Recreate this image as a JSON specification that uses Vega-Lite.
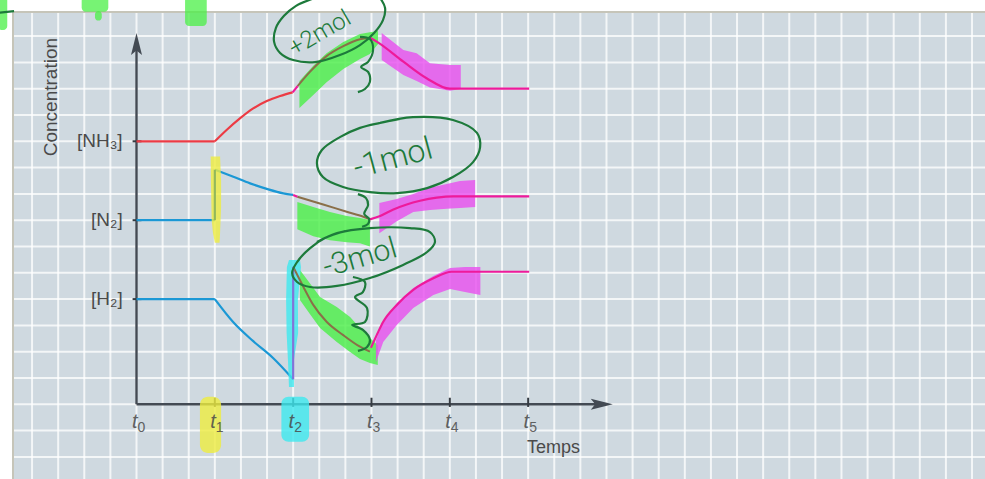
{
  "$schema": "https://vega.github.io/schema/vega-lite/v6.json",
  "width": 985,
  "height": 479,
  "autosize": {"type": "none"},
  "padding": 0,
  "background": "#ffffff",
  "config": {"view": {"stroke": null}},
  "datasets": {
    "vgrid": [{"x":-4,"y":-2.9,"y2":14.92},{"x":-3,"y":-2.9,"y2":14.92},{"x":-2,"y":-2.9,"y2":14.92},{"x":-1,"y":-2.9,"y2":14.92},{"x":0,"y":-2.9,"y2":14.92},{"x":1,"y":-2.9,"y2":14.92},{"x":2,"y":-2.9,"y2":14.92},{"x":3,"y":-2.9,"y2":14.92},{"x":4,"y":-2.9,"y2":14.92},{"x":5,"y":-2.9,"y2":14.92},{"x":6,"y":-2.9,"y2":14.92},{"x":7,"y":-2.9,"y2":14.92},{"x":8,"y":-2.9,"y2":14.92},{"x":9,"y":-2.9,"y2":14.92},{"x":10,"y":-2.9,"y2":14.92},{"x":11,"y":-2.9,"y2":14.92},{"x":12,"y":-2.9,"y2":14.92},{"x":13,"y":-2.9,"y2":14.92},{"x":14,"y":-2.9,"y2":14.92},{"x":15,"y":-2.9,"y2":14.92},{"x":16,"y":-2.9,"y2":14.92},{"x":17,"y":-2.9,"y2":14.92},{"x":18,"y":-2.9,"y2":14.92},{"x":19,"y":-2.9,"y2":14.92},{"x":20,"y":-2.9,"y2":14.92},{"x":21,"y":-2.9,"y2":14.92},{"x":22,"y":-2.9,"y2":14.92},{"x":23,"y":-2.9,"y2":14.92},{"x":24,"y":-2.9,"y2":14.92},{"x":25,"y":-2.9,"y2":14.92},{"x":26,"y":-2.9,"y2":14.92},{"x":27,"y":-2.9,"y2":14.92},{"x":28,"y":-2.9,"y2":14.92},{"x":29,"y":-2.9,"y2":14.92},{"x":30,"y":-2.9,"y2":14.92},{"x":31,"y":-2.9,"y2":14.92},{"x":32,"y":-2.9,"y2":14.92}],
    "hgrid": [{"y":-2,"x":-4.73,"x2":32.6},{"y":-1,"x":-4.73,"x2":32.6},{"y":0,"x":-4.73,"x2":32.6},{"y":1,"x":-4.73,"x2":32.6},{"y":2,"x":-4.73,"x2":32.6},{"y":3,"x":-4.73,"x2":32.6},{"y":4,"x":-4.73,"x2":32.6},{"y":5,"x":-4.73,"x2":32.6},{"y":6,"x":-4.73,"x2":32.6},{"y":7,"x":-4.73,"x2":32.6},{"y":8,"x":-4.73,"x2":32.6},{"y":9,"x":-4.73,"x2":32.6},{"y":10,"x":-4.73,"x2":32.6},{"y":11,"x":-4.73,"x2":32.6},{"y":12,"x":-4.73,"x2":32.6},{"y":13,"x":-4.73,"x2":32.6},{"y":14,"x":-4.73,"x2":32.6}],
    "borders": [
      {"x":-4.73,"x2":32.6,"y":14.92,"y2":14.92},
      {"x":-4.73,"x2":-4.73,"y":-2.9,"y2":14.92}
    ],
    "axes": [
      {"x":0,"x2":0,"y":0,"y2":13.47},
      {"x":0,"x2":17.75,"y":0,"y2":0}
    ],
    "ticks": [
      {"x":-0.15,"x2":0.19,"y":4,"y2":4},
      {"x":-0.15,"x2":0.19,"y":7,"y2":7},
      {"x":-0.15,"x2":0.19,"y":10,"y2":10},
      {"x":3,"x2":3,"y":0.25,"y2":-0.1},
      {"x":6,"x2":6,"y":0.25,"y2":-0.1},
      {"x":9,"x2":9,"y":0.25,"y2":-0.1},
      {"x":12,"x2":12,"y":0.25,"y2":-0.1},
      {"x":15,"x2":15,"y":0.25,"y2":-0.1}
    ],
    "arrows": [{"d":"up","x":0,"y":13.7},{"d":"right","x":17.82,"y":0}],
    "ylab": [{"x":-0.53,"y":10,"t":"[NH₃]"},{"x":-0.53,"y":7,"t":"[N₂]"},{"x":-0.53,"y":4,"t":"[H₂]"}],
    "tlab": [{"x":0,"y":-0.9,"t":"t","n":"0"},{"x":3,"y":-0.9,"t":"t","n":"1"},{"x":6,"y":-0.9,"t":"t","n":"2"},{"x":9,"y":-0.9,"t":"t","n":"3"},{"x":12,"y":-0.9,"t":"t","n":"4"},{"x":15,"y":-0.9,"t":"t","n":"5"}],
    "titles": [{"k":"xt","x":14.96,"y":-1.85,"t":"Temps"},{"k":"yt","x":-3.27,"y":11.68,"t":"Concentration"}],
    "notes": [{"k":"n1","x":7.03,"y":14.1,"t":"+2mol"},{"k":"n2","x":9.82,"y":9.35,"t":"-1mol"},{"k":"n3","x":8.56,"y":5.56,"t":"-3mol"}],
    "lines": [
      {"s":"NH3a","g":"red","i":0,"x":0,"y":10},
      {"s":"NH3a","g":"red","i":1,"x":3,"y":10},
      {"s":"NH3c","g":"red","i":0,"x":3,"y":10},
      {"s":"NH3c","g":"red","i":1,"x":3.45,"y":10.43},
      {"s":"NH3c","g":"red","i":2,"x":3.96,"y":10.87},
      {"s":"NH3c","g":"red","i":3,"x":4.47,"y":11.25},
      {"s":"NH3c","g":"red","i":4,"x":4.99,"y":11.53},
      {"s":"NH3c","g":"red","i":5,"x":5.5,"y":11.72},
      {"s":"NH3c","g":"red","i":6,"x":5.98,"y":11.86},
      {"s":"N2a","g":"blue","i":0,"x":0,"y":7},
      {"s":"N2a","g":"blue","i":1,"x":3,"y":7},
      {"s":"N2c","g":"blue","i":0,"x":3,"y":8.92},
      {"s":"N2c","g":"blue","i":1,"x":3.71,"y":8.65},
      {"s":"N2c","g":"blue","i":2,"x":4.35,"y":8.4},
      {"s":"N2c","g":"blue","i":3,"x":4.99,"y":8.19},
      {"s":"N2c","g":"blue","i":4,"x":5.62,"y":8.02},
      {"s":"N2c","g":"blue","i":5,"x":6,"y":7.96},
      {"s":"H2a","g":"blue","i":0,"x":0,"y":4},
      {"s":"H2a","g":"blue","i":1,"x":3,"y":4},
      {"s":"H2c","g":"blue","i":0,"x":3,"y":4},
      {"s":"H2c","g":"blue","i":1,"x":3.7,"y":3.13},
      {"s":"H2c","g":"blue","i":2,"x":4.46,"y":2.41},
      {"s":"H2c","g":"blue","i":3,"x":5.23,"y":1.76},
      {"s":"H2c","g":"blue","i":4,"x":6,"y":0.95},
      {"s":"NH3b","g":"brown","i":0,"x":6.17,"y":12.1},
      {"s":"NH3b","g":"brown","i":1,"x":6.65,"y":12.65},
      {"s":"NH3b","g":"brown","i":2,"x":7.28,"y":13.24},
      {"s":"NH3b","g":"brown","i":3,"x":7.92,"y":13.62},
      {"s":"NH3b","g":"brown","i":4,"x":8.56,"y":13.88},
      {"s":"NH3b","g":"brown","i":5,"x":8.94,"y":13.94},
      {"s":"N2b","g":"brown","i":0,"x":6.16,"y":7.89},
      {"s":"N2b","g":"brown","i":1,"x":7.15,"y":7.6},
      {"s":"N2b","g":"brown","i":2,"x":8.05,"y":7.32},
      {"s":"N2b","g":"brown","i":3,"x":8.69,"y":7.13},
      {"s":"N2b","g":"brown","i":4,"x":8.94,"y":7.03},
      {"s":"H2b","g":"brown","i":0,"x":6,"y":5.23},
      {"s":"H2b","g":"brown","i":1,"x":6.39,"y":4.47},
      {"s":"H2b","g":"brown","i":2,"x":6.77,"y":3.78},
      {"s":"H2b","g":"brown","i":3,"x":7.28,"y":3.14},
      {"s":"H2b","g":"brown","i":4,"x":7.92,"y":2.63},
      {"s":"H2b","g":"brown","i":5,"x":8.56,"y":2.19},
      {"s":"H2b","g":"brown","i":6,"x":8.94,"y":2.0},
      {"s":"NH3p","g":"pink","i":0,"x":8.94,"y":13.94},
      {"s":"NH3p","g":"pink","i":1,"x":9.2,"y":13.79},
      {"s":"NH3p","g":"pink","i":2,"x":10.22,"y":13.03},
      {"s":"NH3p","g":"pink","i":3,"x":11.11,"y":12.4},
      {"s":"NH3p","g":"pink","i":4,"x":12,"y":12},
      {"s":"NH3p","g":"pink","i":5,"x":15.04,"y":12},
      {"s":"N2p","g":"pink","i":0,"x":8.94,"y":7.03},
      {"s":"N2p","g":"pink","i":1,"x":9.33,"y":7.16},
      {"s":"N2p","g":"pink","i":2,"x":9.84,"y":7.41},
      {"s":"N2p","g":"pink","i":3,"x":10.35,"y":7.6},
      {"s":"N2p","g":"pink","i":4,"x":10.86,"y":7.74},
      {"s":"N2p","g":"pink","i":5,"x":11.5,"y":7.86},
      {"s":"N2p","g":"pink","i":6,"x":12.13,"y":7.91},
      {"s":"N2p","g":"pink","i":7,"x":15.04,"y":7.91},
      {"s":"H2p","g":"pink","i":0,"x":8.98,"y":2.15},
      {"s":"H2p","g":"pink","i":1,"x":9.2,"y":2.63},
      {"s":"H2p","g":"pink","i":2,"x":9.45,"y":3.14},
      {"s":"H2p","g":"pink","i":3,"x":9.97,"y":3.78},
      {"s":"H2p","g":"pink","i":4,"x":10.6,"y":4.35},
      {"s":"H2p","g":"pink","i":5,"x":11.37,"y":4.79},
      {"s":"H2p","g":"pink","i":6,"x":12.07,"y":5.04},
      {"s":"H2p","g":"pink","i":7,"x":15.04,"y":5.04},
      {"s":"NH3k","g":"pink","i":0,"x":5.98,"y":11.86},
      {"s":"NH3k","g":"pink","i":1,"x":6.17,"y":12.1},
      {"s":"N2k","g":"pink","i":0,"x":6,"y":7.96},
      {"s":"N2k","g":"pink","i":1,"x":6.16,"y":7.89},
      {"s":"N2j","g":"olive","i":0,"x":3,"y":7},
      {"s":"N2j","g":"olive","i":1,"x":3,"y":8.92},
      {"s":"H2j","g":"purple","i":0,"x":6,"y":0.95},
      {"s":"H2j","g":"purple","i":1,"x":6,"y":5.23}
    ],
    "bands": [
      {"b":"gA","g":"green","x":6.24,"y":12.29,"y2":11.27},
      {"b":"gA","g":"green","x":6.77,"y":12.87,"y2":11.76},
      {"b":"gA","g":"green","x":7.28,"y":13.35,"y2":12.25},
      {"b":"gA","g":"green","x":7.92,"y":13.78,"y2":12.75},
      {"b":"gA","g":"green","x":8.56,"y":14.08,"y2":13.13},
      {"b":"gA","g":"green","x":8.94,"y":14.15,"y2":13.32},
      {"b":"gA","g":"green","x":9.25,"y":14.19,"y2":13.7},
      {"b":"gB","g":"green","x":6.16,"y":7.69,"y2":6.66},
      {"b":"gB","g":"green","x":6.77,"y":7.5,"y2":6.39},
      {"b":"gB","g":"green","x":7.41,"y":7.31,"y2":6.24},
      {"b":"gB","g":"green","x":8.05,"y":7.16,"y2":6.16},
      {"b":"gB","g":"green","x":8.56,"y":7.08,"y2":6.12},
      {"b":"gB","g":"green","x":8.94,"y":7.01,"y2":6.0},
      {"b":"gC","g":"green","x":6.26,"y":5.11,"y2":3.97},
      {"b":"gC","g":"green","x":6.64,"y":4.6,"y2":3.43},
      {"b":"gC","g":"green","x":7.03,"y":4.08,"y2":2.9},
      {"b":"gC","g":"green","x":7.67,"y":3.7,"y2":2.37},
      {"b":"gC","g":"green","x":8.18,"y":3.32,"y2":1.99},
      {"b":"gC","g":"green","x":8.56,"y":2.9,"y2":1.72},
      {"b":"gC","g":"green","x":8.94,"y":2.52,"y2":1.57},
      {"b":"gC","g":"green","x":9.24,"y":2.25,"y2":1.49},
      {"b":"pA","g":"pink","x":9.39,"y":14.12,"y2":13.09},
      {"b":"pA","g":"pink","x":10.22,"y":13.47,"y2":12.52},
      {"b":"pA","g":"pink","x":10.73,"y":13.35,"y2":12.29},
      {"b":"pA","g":"pink","x":11.24,"y":12.97,"y2":12.05},
      {"b":"pA","g":"pink","x":12.01,"y":12.9,"y2":11.92},
      {"b":"pA","g":"pink","x":12.42,"y":12.9,"y2":11.99},
      {"b":"pB","g":"pink","x":9.3,"y":7.65,"y2":6.5},
      {"b":"pB","g":"pink","x":9.97,"y":7.81,"y2":6.96},
      {"b":"pB","g":"pink","x":10.6,"y":8.0,"y2":7.31},
      {"b":"pB","g":"pink","x":11.24,"y":8.23,"y2":7.39},
      {"b":"pB","g":"pink","x":11.88,"y":8.38,"y2":7.44},
      {"b":"pB","g":"pink","x":12.39,"y":8.49,"y2":7.46},
      {"b":"pB","g":"pink","x":12.97,"y":8.53,"y2":7.5},
      {"b":"pC","g":"pink","x":9.17,"y":2.44,"y2":1.6},
      {"b":"pC","g":"pink","x":9.45,"y":3.13,"y2":2.37},
      {"b":"pC","g":"pink","x":9.97,"y":3.85,"y2":3.02},
      {"b":"pC","g":"pink","x":10.6,"y":4.42,"y2":3.66},
      {"b":"pC","g":"pink","x":11.37,"y":4.88,"y2":4.16},
      {"b":"pC","g":"pink","x":12.01,"y":5.18,"y2":4.38},
      {"b":"pC","g":"pink","x":12.58,"y":5.22,"y2":4.27},
      {"b":"pC","g":"pink","x":13.17,"y":5.22,"y2":4.16}
    ],
    "vbands": [
      {"b":"y1","g":"yellow","y":9.42,"x":2.84,"x2":3.2},
      {"b":"y1","g":"yellow","y":8.5,"x":2.85,"x2":3.24},
      {"b":"y1","g":"yellow","y":7.5,"x":2.87,"x2":3.24},
      {"b":"y1","g":"yellow","y":7.0,"x":2.88,"x2":3.22},
      {"b":"y1","g":"yellow","y":6.5,"x":2.93,"x2":3.2},
      {"b":"y1","g":"yellow","y":6.14,"x":3.0,"x2":3.18},
      {"b":"c2","g":"cyan","y":5.49,"x":5.84,"x2":6.26},
      {"b":"c2","g":"cyan","y":5.22,"x":5.76,"x2":6.3},
      {"b":"c2","g":"cyan","y":3.97,"x":5.73,"x2":6.18},
      {"b":"c2","g":"cyan","y":2.71,"x":5.75,"x2":6.19},
      {"b":"c2","g":"cyan","y":1.68,"x":5.8,"x2":6.03},
      {"b":"c2","g":"cyan","y":0.66,"x":5.84,"x2":6.03}
    ],
    "blobs": [
      {"b":"k1","g":"green","x":-5.3,"x2":-4.95,"y":14.23,"y2":15.5},
      {"b":"k2","g":"green","x":-2.1,"x2":-1.08,"y":14.93,"y2":15.5},
      {"b":"k3","g":"green","x":-1.59,"x2":-1.33,"y":14.59,"y2":14.95},
      {"b":"k4","g":"green","x":1.86,"x2":2.69,"y":14.38,"y2":15.5},
      {"b":"k5","g":"yellow","x":2.43,"x2":3.24,"y":-1.85,"y2":0.29},
      {"b":"k6","g":"cyan","x":5.55,"x2":6.61,"y":-1.42,"y2":0.29}
    ],
    "ink": [
      {"s":"e1","i":0,"x":9.33,"y":15.45},
      {"s":"e1","i":1,"x":9.52,"y":15.07},
      {"s":"e1","i":2,"x":9.44,"y":14.61},
      {"s":"e1","i":3,"x":9.1,"y":14.12},
      {"s":"e1","i":4,"x":8.56,"y":13.66},
      {"s":"e1","i":5,"x":7.79,"y":13.28},
      {"s":"e1","i":6,"x":6.84,"y":13.01},
      {"s":"e1","i":7,"x":6.0,"y":13.09},
      {"s":"e1","i":8,"x":5.5,"y":13.36},
      {"s":"e1","i":9,"x":5.27,"y":13.78},
      {"s":"e1","i":10,"x":5.34,"y":14.31},
      {"s":"e1","i":11,"x":5.65,"y":14.77},
      {"s":"e1","i":12,"x":6.11,"y":15.15},
      {"s":"e1","i":13,"x":6.72,"y":15.41},
      {"s":"e1","i":14,"x":7.41,"y":15.6},
      {"s":"b1","i":0,"x":8.56,"y":13.97},
      {"s":"b1","i":1,"x":8.94,"y":13.89},
      {"s":"b1","i":2,"x":9.06,"y":13.47},
      {"s":"b1","i":3,"x":8.87,"y":13.02},
      {"s":"b1","i":4,"x":8.6,"y":12.83},
      {"s":"b1","i":5,"x":8.87,"y":12.64},
      {"s":"b1","i":6,"x":8.94,"y":12.26},
      {"s":"b1","i":7,"x":8.75,"y":11.99},
      {"s":"b1","i":8,"x":8.48,"y":11.87},
      {"s":"e2","i":0,"x":9.33,"y":10.7},
      {"s":"e2","i":1,"x":10.59,"y":10.92},
      {"s":"e2","i":2,"x":12.12,"y":10.81},
      {"s":"e2","i":3,"x":13.04,"y":10.32},
      {"s":"e2","i":4,"x":13.16,"y":9.78},
      {"s":"e2","i":5,"x":12.89,"y":9.21},
      {"s":"e2","i":6,"x":12.12,"y":8.64},
      {"s":"e2","i":7,"x":11.13,"y":8.22},
      {"s":"e2","i":8,"x":9.98,"y":8.03},
      {"s":"e2","i":9,"x":8.94,"y":8.07},
      {"s":"e2","i":10,"x":7.91,"y":8.26},
      {"s":"e2","i":11,"x":7.14,"y":8.64},
      {"s":"e2","i":12,"x":6.91,"y":9.17},
      {"s":"e2","i":13,"x":7.1,"y":9.67},
      {"s":"e2","i":14,"x":7.79,"y":10.16},
      {"s":"e2","i":15,"x":8.56,"y":10.51},
      {"s":"e2","i":16,"x":9.33,"y":10.7},
      {"s":"e2","i":17,"x":10.09,"y":10.85},
      {"s":"b2","i":0,"x":8.48,"y":7.99},
      {"s":"b2","i":1,"x":8.79,"y":7.84},
      {"s":"b2","i":2,"x":8.87,"y":7.58},
      {"s":"b2","i":3,"x":8.72,"y":7.24},
      {"s":"b2","i":4,"x":8.91,"y":7.05},
      {"s":"b2","i":5,"x":8.87,"y":6.86},
      {"s":"b2","i":6,"x":8.64,"y":6.75},
      {"s":"e3","i":0,"x":6.91,"y":6.17},
      {"s":"e3","i":1,"x":7.68,"y":6.51},
      {"s":"e3","i":2,"x":8.94,"y":6.7},
      {"s":"e3","i":3,"x":10.47,"y":6.7},
      {"s":"e3","i":4,"x":11.24,"y":6.55},
      {"s":"e3","i":5,"x":11.43,"y":6.17},
      {"s":"e3","i":6,"x":11.13,"y":5.79},
      {"s":"e3","i":7,"x":10.21,"y":5.3},
      {"s":"e3","i":8,"x":8.94,"y":4.8},
      {"s":"e3","i":9,"x":7.68,"y":4.5},
      {"s":"e3","i":10,"x":6.65,"y":4.46},
      {"s":"e3","i":11,"x":6.15,"y":4.65},
      {"s":"e3","i":12,"x":5.96,"y":4.99},
      {"s":"e3","i":13,"x":6.15,"y":5.41},
      {"s":"e3","i":14,"x":6.65,"y":5.94},
      {"s":"e3","i":15,"x":7.22,"y":6.32},
      {"s":"e3","i":16,"x":7.99,"y":6.59},
      {"s":"b3","i":0,"x":8.29,"y":4.84},
      {"s":"b3","i":1,"x":8.75,"y":4.65},
      {"s":"b3","i":2,"x":8.67,"y":4.27},
      {"s":"b3","i":3,"x":8.37,"y":4.08},
      {"s":"b3","i":4,"x":8.83,"y":3.66},
      {"s":"b3","i":5,"x":8.75,"y":3.13},
      {"s":"b3","i":6,"x":8.26,"y":3.02},
      {"s":"b3","i":7,"x":8.67,"y":2.83},
      {"s":"b3","i":8,"x":8.94,"y":2.45},
      {"s":"b3","i":9,"x":8.83,"y":2.18},
      {"s":"b3","i":10,"x":8.48,"y":2.03},
      {"s":"tl","i":0,"x":-5.23,"y":14.89},
      {"s":"tl","i":1,"x":-4.69,"y":14.95}
    ]
  },
  "encoding": {
    "x": {"field": "x", "type": "quantitative", "scale": {"domain": [-5.228, 32.497], "nice": false, "zero": false}, "axis": null},
    "y": {"field": "y", "type": "quantitative", "scale": {"domain": [-2.84, 15.373], "nice": false, "zero": false}, "axis": null}
  },
  "layer": [
    {"data": {"values": [{"x": -4.73, "x2": 32.6, "y": -2.9, "y2": 14.92}]}, "mark": {"type": "rect", "color": "#cfd9e0"}, "encoding": {"x2": {"field": "x2"}, "y2": {"field": "y2"}}},
    {"data": {"name": "vgrid"}, "mark": {"type": "rule", "color": "#ffffff", "strokeWidth": 2, "opacity": 0.75}, "encoding": {"y2": {"field": "y2"}}},
    {"data": {"name": "hgrid"}, "mark": {"type": "rule", "color": "#ffffff", "strokeWidth": 2, "opacity": 0.75}, "encoding": {"x2": {"field": "x2"}}},
    {"data": {"name": "borders"}, "mark": {"type": "rule", "color": "#c6c5b9", "strokeWidth": 2}, "encoding": {"x2": {"field": "x2"}, "y2": {"field": "y2"}}},
    {"data": {"name": "axes"}, "mark": {"type": "rule", "color": "#434a53", "strokeWidth": 2.4}, "encoding": {"x2": {"field": "x2"}, "y2": {"field": "y2"}}},
    {"data": {"name": "ticks"}, "mark": {"type": "rule", "color": "#353b42", "strokeWidth": 2}, "encoding": {"x2": {"field": "x2"}, "y2": {"field": "y2"}}},
    {"data": {"name": "arrows"}, "transform": [{"filter": "datum.d === 'up'"}], "mark": {"type": "point", "shape": "M0,-1L0.5,1L0,0.6L-0.5,1Z", "filled": true, "color": "#434a53", "opacity": 1, "size": 484}},
    {"data": {"name": "arrows"}, "transform": [{"filter": "datum.d === 'right'"}], "mark": {"type": "point", "shape": "M1,0L-1,-0.5L-0.6,0L-1,0.5Z", "filled": true, "color": "#434a53", "opacity": 1, "size": 484}},
    {"data": {"name": "blobs"}, "transform": [{"filter": "datum.g === 'green'"}], "mark": {"type": "rect", "color": "#4aef46", "opacity": 0.75, "cornerRadius": 4}, "encoding": {"x2": {"field": "x2"}, "y2": {"field": "y2"}}},
    {"data": {"name": "blobs"}, "transform": [{"filter": "datum.g === 'yellow'"}], "mark": {"type": "rect", "color": "#eeec40", "opacity": 0.8, "cornerRadius": 8}, "encoding": {"x2": {"field": "x2"}, "y2": {"field": "y2"}}},
    {"data": {"name": "blobs"}, "transform": [{"filter": "datum.g === 'cyan'"}], "mark": {"type": "rect", "color": "#3de9ef", "opacity": 0.8, "cornerRadius": 7}, "encoding": {"x2": {"field": "x2"}, "y2": {"field": "y2"}}},
    {"data": {"name": "ylab"}, "mark": {"type": "text", "align": "right", "baseline": "middle", "font": "Liberation Sans", "fontSize": 19, "color": "#4a4a4a"}, "encoding": {"text": {"field": "t"}}},
    {"data": {"name": "tlab"}, "mark": {"type": "text", "align": "right", "baseline": "alphabetic", "dx": 1, "font": "Liberation Sans", "fontStyle": "italic", "fontSize": 20, "color": "#4a4a4a", "opacity": 0.85}, "encoding": {"text": {"field": "t"}}},
    {"data": {"name": "tlab"}, "mark": {"type": "text", "align": "left", "baseline": "alphabetic", "dx": 1, "dy": 4, "font": "Liberation Sans", "fontSize": 14, "color": "#4a4a4a", "opacity": 0.85}, "encoding": {"text": {"field": "n"}}},
    {"data": {"name": "titles"}, "transform": [{"filter": "datum.k === 'xt'"}], "mark": {"type": "text", "align": "left", "baseline": "alphabetic", "font": "Liberation Sans", "fontSize": 18, "color": "#4a4a4a"}, "encoding": {"text": {"field": "t"}}},
    {"data": {"name": "titles"}, "transform": [{"filter": "datum.k === 'yt'"}], "mark": {"type": "text", "align": "center", "baseline": "middle", "angle": 270, "font": "Liberation Sans", "fontSize": 19, "color": "#4a4a4a"}, "encoding": {"text": {"field": "t"}}},
    {"data": {"name": "lines"}, "transform": [{"filter": "datum.g === 'red'"}], "mark": {"type": "line", "color": "#ec3b44", "strokeWidth": 2.2, "interpolate": "monotone"}, "encoding": {"detail": {"field": "s"}, "order": {"field": "i"}}},
    {"data": {"name": "lines"}, "transform": [{"filter": "datum.g === 'blue'"}], "mark": {"type": "line", "color": "#1b98d5", "strokeWidth": 2.2, "interpolate": "monotone"}, "encoding": {"detail": {"field": "s"}, "order": {"field": "i"}}},
    {"data": {"name": "bands"}, "transform": [{"filter": "datum.g === 'green'"}], "mark": {"type": "area", "color": "#4aef46", "opacity": 0.8}, "encoding": {"y2": {"field": "y2"}, "detail": {"field": "b"}}},
    {"data": {"name": "bands"}, "transform": [{"filter": "datum.g === 'pink'"}], "mark": {"type": "area", "color": "#e94def", "opacity": 0.8}, "encoding": {"y2": {"field": "y2"}, "detail": {"field": "b"}}},
    {"data": {"name": "vbands"}, "transform": [{"filter": "datum.g === 'yellow'"}], "mark": {"type": "area", "orient": "horizontal", "color": "#eeec40", "opacity": 0.8}, "encoding": {"x2": {"field": "x2"}, "detail": {"field": "b"}}},
    {"data": {"name": "vbands"}, "transform": [{"filter": "datum.g === 'cyan'"}], "mark": {"type": "area", "orient": "horizontal", "color": "#3de9ef", "opacity": 0.8}, "encoding": {"x2": {"field": "x2"}, "detail": {"field": "b"}}},
    {"data": {"name": "lines"}, "transform": [{"filter": "datum.g === 'brown'"}], "mark": {"type": "line", "color": "#8a6f48", "strokeWidth": 2, "interpolate": "monotone"}, "encoding": {"detail": {"field": "s"}, "order": {"field": "i"}}},
    {"data": {"name": "lines"}, "transform": [{"filter": "datum.g === 'pink'"}], "mark": {"type": "line", "color": "#ee1a9b", "strokeWidth": 2.2, "interpolate": "monotone"}, "encoding": {"detail": {"field": "s"}, "order": {"field": "i"}}},
    {"data": {"name": "lines"}, "transform": [{"filter": "datum.g === 'olive'"}], "mark": {"type": "line", "color": "#93b85c", "strokeWidth": 2.2}, "encoding": {"detail": {"field": "s"}, "order": {"field": "i"}}},
    {"data": {"name": "lines"}, "transform": [{"filter": "datum.g === 'purple'"}], "mark": {"type": "line", "color": "#8373d8", "strokeWidth": 2.2}, "encoding": {"detail": {"field": "s"}, "order": {"field": "i"}}},
    {"data": {"name": "ink"}, "mark": {"type": "line", "color": "#1d7a3b", "strokeWidth": 2.2, "interpolate": "catmull-rom"}, "encoding": {"detail": {"field": "s"}, "order": {"field": "i"}}},
    {"data": {"name": "notes"}, "transform": [{"filter": "datum.k === 'n1'"}], "mark": {"type": "text", "align": "center", "baseline": "middle", "angle": 330, "font": "Roboto", "fontWeight": 300, "fontSize": 24, "color": "#1d7a3b"}, "encoding": {"text": {"field": "t"}}},
    {"data": {"name": "notes"}, "transform": [{"filter": "datum.k === 'n2'"}], "mark": {"type": "text", "align": "center", "baseline": "middle", "angle": 345, "font": "Roboto", "fontWeight": 300, "fontSize": 32, "color": "#1d7a3b"}, "encoding": {"text": {"field": "t"}}},
    {"data": {"name": "notes"}, "transform": [{"filter": "datum.k === 'n3'"}], "mark": {"type": "text", "align": "center", "baseline": "middle", "angle": 344, "font": "Roboto", "fontWeight": 300, "fontSize": 30, "color": "#1d7a3b"}, "encoding": {"text": {"field": "t"}}}
  ]
}
